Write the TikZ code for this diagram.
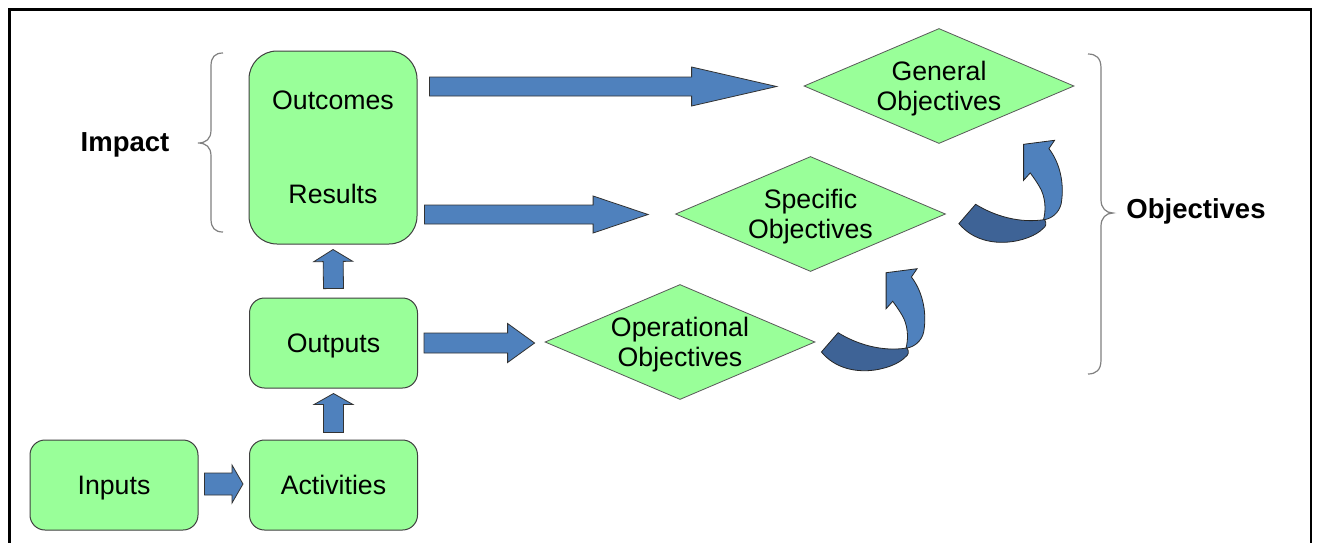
\documentclass[tikz,border=0pt]{standalone}
\usepackage{fontspec}
\setmainfont{Liberation Sans}
\usetikzlibrary{calc,shapes.geometric}
\definecolor{boxgreen}{HTML}{99FF99}
\definecolor{arrblue}{HTML}{4F81BD}
\definecolor{arrdark}{HTML}{3E6396}
\newcommand\blockarrow[5]{%
  \draw[barrow] let \p1=(#1), \p2=(#2), \n1={atan2(\y2-\y1,\x2-\x1)}, \n2={veclen(\x2-\x1,\y2-\y1)} in
  [shift={(\p1)}, rotate=\n1]
  (0,#3) -- (\n2-#5,#3) -- (\n2-#5,#4) -- (\n2,0) -- (\n2-#5,-#4) -- (\n2-#5,-#3) -- (0,-#3) -- cycle;}
\begin{document}
\begin{tikzpicture}[x=1pt,y=-1pt,
  txt/.style={font=\fontsize{26.7}{30}\selectfont, align=center},
  box/.style={txt, draw=black!75, line width=1pt, fill=boxgreen, minimum width=168pt,
    minimum height=90pt, rounded corners=15pt, inner sep=0pt},
  oneline/.style={text height=19.5pt, text depth=0pt},
  diam/.style={diamond, draw=black!65, line width=0.8pt, fill=boxgreen,
    minimum width=270pt, minimum height=115pt, inner sep=0pt},
  dlab/.style={txt, yshift=-3pt},
  barrow/.style={draw=black!80, line width=0.8pt, fill=arrblue, line join=miter},
  brace/.style={draw=black!50, line width=1.2pt},
  lbl/.style={font=\bfseries\fontsize{27.5}{30}\selectfont},
  cpart/.style={draw=black!85, line width=0.8pt, line join=miter},
  curvarr/.pic={
    \path[cpart, fill=arrblue] (84,-2) .. controls (88,-14) and (86,-28) .. (80.7,-36.7)
      .. controls (77,-43) and (74,-47) .. (71.3,-50.7) -- (64.7,-43.3) -- (64.7,-79.3)
      -- (95.7,-83.3) -- (90,-75) .. controls (100,-62) and (106,-42) .. (102.3,-20)
      .. controls (100,-10) and (92,-5) .. (85.7,-4) -- cycle;
    \path[cpart, fill=arrdark] (0,0) -- (16.7,-19.3) .. controls (35,-8) and (60,0) .. (85.7,-4)
      .. controls (88,0) and (87,3) .. (84,5) .. controls (72,18) and (25,30) .. (0,0) -- cycle;
  }]
\useasboundingbox (0,0) rectangle (1317,542);
\fill[white] (0,0) rectangle (1317,542);
\begin{scope}
  \clip (0,0) rectangle (1317,542);
  \draw[line width=2.6pt] (9.5,9.5) rectangle (1311,580);
\end{scope}

% boxes
\node[box, minimum height=193pt, rounded corners=28pt] (outres) at (333,147.5) {Outcomes\\[64pt]Results};
\node[box, oneline] (outp) at (333.5,343) {Outputs};
\node[box, oneline] (act) at (333.5,485) {Activities};
\node[box, oneline] (inp) at (114,485) {Inputs};

% diamonds
\node[diam, label={[dlab]center:{General\\Objectives}}] (gen) at (939,86) {};
\node[diam, label={[dlab]center:{Specific\\Objectives}}] (spec) at (810.5,214) {};
\node[diam, label={[dlab]center:{Operational\\Objectives}}] (oper) at (680,342) {};

% labels
\node[lbl] (imp) at (125,145) {Impact};
\node[lbl] (obj) at (1196,211) {Objectives};

% block arrows
\coordinate (a1s) at ($(outres.east|-gen.west)+(12,0.5)$);
\coordinate (a1e) at ($(gen.west)+(-27,0.5)$);
\blockarrow{a1s}{a1e}{9.5}{19.5}{85}
\coordinate (a2s) at ($(outres.east|-spec.west)+(7,0.5)$);
\coordinate (a2e) at ($(spec.west)+(-27,0.5)$);
\blockarrow{a2s}{a2e}{9.5}{18.5}{55}
\coordinate (a3s) at ($(outp.east)+(6,0)$);
\coordinate (a3e) at ($(oper.west|-outp.east)+(-10,0)$);
\blockarrow{a3s}{a3e}{10}{19.5}{27}
\coordinate (a4s) at ($(inp.east)+(6,-1)$);
\coordinate (a4e) at ($(act.west)+(-6,-1)$);
\blockarrow{a4s}{a4e}{11}{19}{11}
\coordinate (a5s) at ($(act.north)+(0,-7)$);
\coordinate (a5e) at ($(outp.south)+(0,5)$);
\blockarrow{a5s}{a5e}{10}{19.5}{11}
\coordinate (a6s) at ($(outp.north)+(0,-9)$);
\coordinate (a6e) at ($(outres.south)+(0,5)$);
\blockarrow{a6s}{a6e}{10}{19.5}{12}

% curved arrows
\pic at ($(oper.east)+(6,10)$) {curvarr};
\pic at ($(spec.east)+(13,9.6)$) {curvarr};

% braces
\draw[brace] (223,53) .. controls (215,53) and (211,57) .. (211,66) -- (211,130)
  .. controls (211,139) and (206,143) .. (198,143) .. controls (206,143) and (211,147) .. (211,156)
  -- (211,219) .. controls (211,228) and (215,232) .. (223,232);
\draw[brace] (1088,54) .. controls (1096,54) and (1101,58) .. (1101,68) -- (1101,200)
  .. controls (1101,208) and (1106,213) .. (1113,213) .. controls (1106,213) and (1101,218) .. (1101,226)
  -- (1101,360) .. controls (1101,370) and (1096,374) .. (1088,374);
\end{tikzpicture}
\end{document}
